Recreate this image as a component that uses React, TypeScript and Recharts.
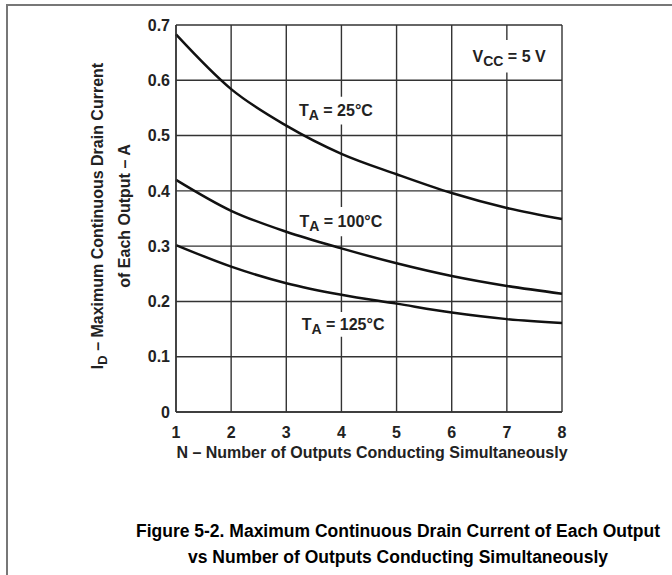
import { LineChart, Line, XAxis, YAxis, CartesianGrid, ReferenceArea } from 'recharts'

const outputs = [1, 2, 3, 4, 5, 6, 7, 8]
const ta25 = [0.683, 0.584, 0.518, 0.467, 0.43, 0.396, 0.369, 0.349]
const ta100 = [0.42, 0.364, 0.326, 0.296, 0.269, 0.246, 0.228, 0.214]
const ta125 = [0.302, 0.263, 0.233, 0.212, 0.196, 0.18, 0.168, 0.161]
const yTicks = [0, 0.1, 0.2, 0.3, 0.4, 0.5, 0.6, 0.7]

const data = outputs.map((n, i) => ({ n, ta25: ta25[i], ta100: ta100[i], ta125: ta125[i] }))

// text boxes in data units; white fill breaks the grid behind the text
const notes = [
  { main: 'V', sub: 'CC', rest: ' = 5 V', x1: 6.3, x2: 7.78, y1: 0.614, y2: 0.673 },
  { main: 'T', sub: 'A', rest: ' = 25°C', x1: 3.17, x2: 4.63, y1: 0.52, y2: 0.57 },
  { main: 'T', sub: 'A', rest: ' = 100°C', x1: 3.24, x2: 4.74, y1: 0.318, y2: 0.371 },
  { main: 'T', sub: 'A', rest: ' = 125°C', x1: 3.26, x2: 4.8, y1: 0.136, y2: 0.181 },
]

const font = '"Liberation Sans", Arial, sans-serif'
const ink = '#222'

function NoteLabel(props: any) {
  const { viewBox, main, sub, rest } = props
  const { x, y, width, height } = viewBox
  return (
    <text
      x={x + width / 2}
      y={y + height / 2}
      dy="0.35em"
      textAnchor="middle"
      fontFamily={font}
      fontWeight="bold"
      fontSize={16}
      fill={ink}
    >
      {main}
      <tspan fontSize={14} dy={4}>{sub}</tspan>
      <tspan dy={-4}>{rest}</tspan>
    </text>
  )
}

const curveProps = {
  type: 'monotone' as const,
  stroke: '#111',
  strokeWidth: 2.5,
  dot: false,
  activeDot: false,
  isAnimationActive: false,
}

export default function App() {
  return (
    <div style={{ position: 'absolute', left: 0, top: 0, width: 672, height: 575, background: '#fff', fontFamily: font }}>
      <div
        style={{
          position: 'absolute',
          left: 6,
          top: 4,
          right: 0,
          bottom: 0,
          borderTop: '2px solid #777',
          borderLeft: '2px solid #777',
        }}
      />
      <LineChart
        width={672}
        height={575}
        data={data}
        margin={{ top: 25, right: 110, left: 116, bottom: 133 }}
        style={{ position: 'absolute', left: 0, top: 0 }}
      >
        <CartesianGrid stroke="#333" strokeWidth={1.4} />
        <XAxis
          dataKey="n"
          type="number"
          domain={[1, 8]}
          ticks={outputs}
          height={30}
          tickLine={false}
          tickSize={0}
          tickMargin={15}
          axisLine={{ stroke: '#333', strokeWidth: 1.4 }}
          tick={{ fontSize: 16, fontWeight: 'bold', fill: ink, fontFamily: font }}
        />
        <YAxis
          type="number"
          domain={[0, 0.7]}
          ticks={yTicks}
          width={60}
          tickLine={false}
          tickSize={0}
          tickMargin={6}
          axisLine={{ stroke: '#333', strokeWidth: 1.4 }}
          tickFormatter={(v: number) => (v === 0 ? '0' : v.toFixed(1))}
          tick={{ fontSize: 16, fontWeight: 'bold', fill: ink, fontFamily: font }}
        />
        {notes.map((nt) => (
          <ReferenceArea
            key={nt.rest}
            x1={nt.x1}
            x2={nt.x2}
            y1={nt.y1}
            y2={nt.y2}
            fill="#fff"
            fillOpacity={1}
            stroke="none"
            label={<NoteLabel main={nt.main} sub={nt.sub} rest={nt.rest} />}
          />
        ))}
        <Line dataKey="ta25" {...curveProps} />
        <Line dataKey="ta100" {...curveProps} />
        <Line dataKey="ta125" {...curveProps} />
      </LineChart>

      <div
        style={{
          position: 'absolute',
          left: 111,
          top: 216,
          transform: 'translate(-50%, -50%) rotate(-90deg)',
          whiteSpace: 'nowrap',
          fontSize: 16,
          fontWeight: 'bold',
          color: ink,
          textAlign: 'center',
          lineHeight: '22px',
        }}
      >
        <div>
          I<sub style={{ fontSize: 13, verticalAlign: -4 }}>D</sub> – Maximum Continuous Drain Current
        </div>
        <div>of Each Output – A</div>
      </div>

      <div
        style={{
          position: 'absolute',
          left: 172,
          width: 400,
          top: 444,
          textAlign: 'center',
          fontSize: 16,
          fontWeight: 'bold',
          color: ink,
          whiteSpace: 'nowrap',
        }}
      >
        N – Number of Outputs Conducting Simultaneously
      </div>

      <div
        style={{
          position: 'absolute',
          left: 98,
          width: 600,
          top: 518,
          textAlign: 'center',
          fontSize: 17.5,
          fontWeight: 'bold',
          color: '#000',
          lineHeight: '26px',
          whiteSpace: 'nowrap',
        }}
      >
        <div>Figure 5-2. Maximum Continuous Drain Current of Each Output</div>
        <div>vs Number of Outputs Conducting Simultaneously</div>
      </div>
    </div>
  )
}
